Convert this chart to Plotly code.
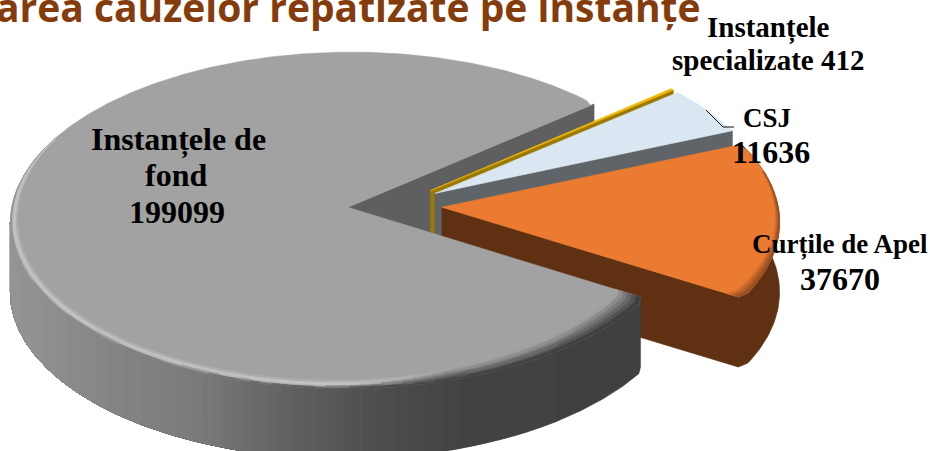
import numpy as np
import plotly.graph_objects as go

categories = ["Instanțele de fond", "Instanțele specializate", "CSJ", "Curțile de Apel"]
values = [199099, 412, 11636, 37670]
title_text = "area cauzelor repatizate pe instanțe"

START = 31.5
R, A, P, CX, CY, EXPLODE, DEPTH = 336.0, 167.0, 0.0774, 395.0, 205.5, 0.14, 70.0
W, H = 930, 451


def project(u, s, depth=0.0):
    d = 1 - P * s
    return CX + R * u / d, CY + A * s / d + depth


def rim(apex, ang, r=1.0, depth=0.0):
    t = np.radians(ang)
    return project(apex[0] + r * np.cos(t), apex[1] + r * np.sin(t), depth)


def soft(t, a, b):
    # slightly rounded slice corners
    return 1 - 0.014 * np.clip(1 - min(t - a, b - t) / 2.0, 0, 1)


def lerp(a, b, t):
    return tuple(a[i] + (b[i] - a[i]) * t for i in range(3))


def css(c, q=2):
    return "rgb(%d,%d,%d)" % tuple(int(min(255, round(v / q) * q)) for v in c)


fig = go.Figure()


def polygon(pts, color, lw=0.7):
    fig.add_trace(go.Scatter(x=[p[0] for p in pts] + [pts[0][0]], y=[p[1] for p in pts] + [pts[0][1]],
                             mode="lines", fill="toself", fillcolor=color,
                             line=dict(color=color, width=lw), hoverinfo="skip", showlegend=False))


def buckets(cells):
    groups = {}
    for pts, c in cells:
        groups.setdefault(css(c), []).append(pts)
    for color, polys in groups.items():
        xs, ys = [], []
        for pts in polys:
            xs += [p[0] for p in pts] + [pts[0][0], None]
            ys += [p[1] for p in pts] + [pts[0][1], None]
        fig.add_trace(go.Scatter(x=xs, y=ys, mode="lines", fill="toself", fillcolor=color,
                                 line=dict(color=color, width=0.8), hoverinfo="skip", showlegend=False))


# angular extents from the values
total = sum(values)
spans, a0 = [], START
for v in values:
    a1 = a0 + v / total * 360.0
    mid = np.radians((a0 + a1) / 2)
    spans.append((a0, a1, (EXPLODE * np.cos(mid), EXPLODE * np.sin(mid))))
    a0 = a1


def top_pts(sp, rounded=False):
    a, b, apex = sp
    angs = np.linspace(a, b, max(3, int(abs(b - a) * 4)))
    return [project(*apex)] + [rim(apex, t, soft(t, a, b) if rounded else 1.0) for t in angs]


def wall_pts(sp, r=1.0):
    a, b, apex = sp
    ax, ay = project(*apex)
    rx, ry = rim(apex, b, r)
    return [(ax, ay), (rx, ry), (rx, ry + DEPTH), (ax, ay + DEPTH)]


def main_side(x):
    return (np.interp(x, [13, 100, 200, 300, 400, 470, 640], [148, 134, 122, 94, 74, 66, 64]),) * 3


TOP = (162, 162, 162)
sp_main, sp_spec, sp_csj, sp_cur = spans

# back to front: main cut wall, then the three separated slices
polygon(wall_pts(sp_main), "#5f5f5f")
polygon(wall_pts(sp_spec), "#9c7a00")
polygon(top_pts(sp_spec), "#f2b800")
polygon(wall_pts(sp_csj), "#5f6468")
polygon(top_pts(sp_csj), "#dae6f2", 0.5)

ORANGE = (235, 123, 48)
a, b, apex = sp_cur
polygon(wall_pts(sp_cur, 0.986), "#5f3112")
angs = np.linspace(a, b, 60)
polygon([rim(apex, t, soft(t, a - 5, b)) for t in angs] + [rim(apex, t, soft(t, a - 5, b), DEPTH) for t in angs[::-1]],
        "#5f3112")
polygon(top_pts(sp_cur, True), "#eb7b30")
cells = []
edges = np.linspace(b - 44, b, 30)
for t0, t1 in zip(edges[:-1], edges[1:]):
    tm = (t0 + t1) / 2
    th = np.interp(tm, [b - 44, b - 20, b], [0.006, 0.014, 0.035])
    s0 = soft(t0, a - 5, b)
    s1 = soft(t1, a - 5, b)
    for k in range(4):
        f0, f1 = 1 - th * (1 - k / 4), 1 - th * (1 - (k + 1) / 4)
        cells.append(([rim(apex, t0, f0 * s0), rim(apex, t1, f0 * s1), rim(apex, t1, f1 * s1), rim(apex, t0, f1 * s0)],
                      lerp(ORANGE, (150, 80, 35), (k + 1) / 4)))
buckets(cells)

# main slice: outer side drawn as nested strips so no seams show, then face and bevel
a, b, apex = sp_main
sweep = np.linspace(120, 230, 441)
END_SIDE = float(sweep[np.argmin([rim(apex, t)[0] for t in sweep])])
edges = np.linspace(a, END_SIDE, 200)
last = None
for t0 in edges[:-1]:
    c = css(main_side(rim(apex, t0 + 0.4)[0]))
    if c != last:
        angs = np.linspace(t0, END_SIDE, max(3, int((END_SIDE - t0) * 2)))
        tops = [rim(apex, t, soft(t, a, b)) for t in angs]
        polygon(tops + [(p[0], p[1] + DEPTH) for p in tops[::-1]], c, 0.4)
        last = c
polygon(top_pts(sp_main, True), "#a2a2a2", 0.5)

bevel_cells = []
edges = np.linspace(a, 205, 100)
for t0, t1 in zip(edges[:-1], edges[1:]):
    tm = (t0 + t1) / 2
    th = np.interp(tm, [a, 60, 90, 130, 180, 205], [0.085, 0.065, 0.042, 0.032, 0.02, 0.004])
    x = rim(apex, tm)[0]
    side = main_side(x)
    glow = np.clip((x - 330) / 130, 0, 1)
    hi = lerp((202, 202, 202), TOP, glow)
    split = 0.6 * (1 - glow) + 0.15 * glow
    s0, s1 = soft(t0, a, b), soft(t1, a, b)
    for k in range(6):
        f0, f1 = k / 6, (k + 1) / 6
        c = lerp(TOP, hi, f1 / split) if f1 < split else lerp(hi, side, (f1 - split) / (1 - split))
        r0, r1 = 1 - th * (1 - f0), 1 - th * (1 - f1)
        bevel_cells.append(([rim(apex, t0, r0 * s0), rim(apex, t1, r0 * s1), rim(apex, t1, r1 * s1),
                             rim(apex, t0, r1 * s0)], c))
buckets(bevel_cells)

# leader line of the CSJ label
fig.add_trace(go.Scatter(x=[706, 723, 734], y=[110, 127, 127], mode="lines",
                         line=dict(color="#111111", width=1), hoverinfo="skip", showlegend=False))


def label(text, x, y, size):
    fig.add_annotation(x=x, y=y, text="<b>%s</b>" % text, showarrow=False, xanchor="center", yanchor="middle",
                       font=dict(family="Liberation Serif", size=size, color="#000000"))


label("Instanțele de", 178, 139, 32)
label("fond", 176, 175, 32)
label(f"{values[0]}", 177, 212, 32)
label("Instanțele", 768, 28, 29)
label(f"specializate {values[1]}", 768, 60, 29)
label(categories[2], 767, 118, 27)
label(f"{values[2]}", 771, 152, 32)
label(categories[3], 840, 244, 27)
label(f"{values[3]}", 840, 279, 32)

fig.add_annotation(x=348, y=19, text="<b>%s</b>" % title_text, showarrow=False, xanchor="center", yanchor="bottom",
                   yshift=-16, font=dict(family="Open Sans", size=39, color="#843c0c"))

fig.update_layout(width=W, height=H, margin=dict(l=0, r=0, t=0, b=0), paper_bgcolor="white", plot_bgcolor="white",
                  xaxis=dict(range=[0, W], visible=False, fixedrange=True),
                  yaxis=dict(range=[H, 0], visible=False, fixedrange=True), showlegend=False)
fig.write_html("out.html", config=dict(displayModeBar=False),
               post_script="document.body.style.margin='0';document.body.style.overflow='hidden';")
